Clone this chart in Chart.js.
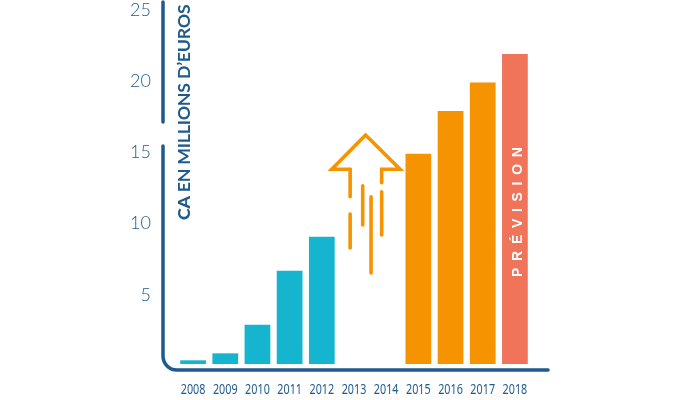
<!DOCTYPE html>
<html>
<head>
<meta charset="utf-8">
<style>
  html, body { margin: 0; padding: 0; background: #fff; }
  canvas { display: block; }
</style>
<script src="https://cdn.jsdelivr.net/npm/chart.js@4"></script>
</head>
<body>
<canvas id="myChart" width="680" height="400"></canvas>
<script>
// chiffre d'affaires
const years = [2008, 2009, 2010, 2011, 2012, 2013, 2014, 2015, 2016, 2017, 2018];
const revenue = [0.4, 0.89, 2.9, 6.69, 9.07, null, null, 14.9, 17.9, 19.9, 21.9];
const barColors = ['#15b5cf', '#15b5cf', '#15b5cf', '#15b5cf', '#15b5cf', null, null, '#f59300', '#f59300', '#f59300', '#f0745a'];
const yTicks = [5, 10, 15, 20, 25];

// the arrow between 2012 and 2015, in year / value units
const arrowHead = [[2012.88, 13.8], [2012.31, 13.8], [2013.36, 16.21], [2014.43, 13.8], [2013.86, 13.8], [2013.86, 12.86]];
const arrowLeftTop = [[2012.88, 13.8], [2012.88, 11.88]];
const arrowLeftLow = [[2012.88, 10.67], [2012.88, 8.28]];
const arrowRightLow = [[2013.86, 12.23], [2013.86, 9.19]];
const arrowMidLeft = [[2013.27, 12.65], [2013.27, 9.89]];
const arrowMidRight = [[2013.53, 11.88], [2013.53, 6.53]];
const arrowParts = [arrowHead, arrowLeftTop, arrowLeftLow, arrowRightLow, arrowMidLeft, arrowMidRight];

const navy = '#1f5a8c';
const orange = '#f59300';

function arrowDataset(part) {
    return {
        type: 'line',
        data: part.map(p => ({ x: p[0], y: p[1] })),
        borderColor: orange,
        borderWidth: 3.6,
        borderCapStyle: 'round',
        borderJoinStyle: 'miter',
        pointRadius: 0,
        tension: 0
    };
}

// rounded axis line with its gap, the year labels (condensed), the rotated axis title, the label in the 2018 bar
const decorations = {
    id: 'decorations',
    afterDatasetsDraw(chart) {
        const ctx = chart.ctx;
        const area = chart.chartArea;
        const xScale = chart.scales.x;
        const yScale = chart.scales.y;

        ctx.save();
        ctx.strokeStyle = navy;
        ctx.lineWidth = 3.5;
        ctx.lineCap = 'round';
        const axisX = area.left - 14;
        ctx.beginPath();
        ctx.moveTo(axisX, 2);
        ctx.lineTo(axisX, 122);
        ctx.moveTo(axisX, 146);
        ctx.arcTo(axisX, area.bottom, axisX + 14, area.bottom, 14);
        ctx.lineTo(area.right + 17, area.bottom);
        ctx.stroke();
        ctx.restore();

        ctx.save();
        ctx.fillStyle = navy;
        ctx.font = '15px "Noto Sans"';
        ctx.textAlign = 'center';
        ctx.textBaseline = 'middle';
        years.forEach(year => {
            ctx.save();
            ctx.translate(xScale.getPixelForValue(year), 390);
            ctx.scale(0.72, 1);
            ctx.fillText(String(year), 0, 0);
            ctx.restore();
        });
        ctx.restore();

        ctx.save();
        ctx.fillStyle = navy;
        ctx.translate(190, 220);
        ctx.rotate(-Math.PI / 2);
        ctx.textBaseline = 'alphabetic';
        ctx.textAlign = 'left';
        ctx.letterSpacing = '-0.25px';
        ctx.font = '900 17.8px Lato';
        ctx.fillText('CA', 0, 0);
        const caWidth = ctx.measureText('CA ').width;
        ctx.font = '700 17.8px Lato';
        ctx.fillText('EN MILLIONS D\u2019EUROS', caWidth, 0);
        ctx.restore();

        ctx.save();
        ctx.fillStyle = '#fff';
        ctx.translate(xScale.getPixelForValue(2018) + 7, yScale.getPixelForValue(6.25));
        ctx.rotate(-Math.PI / 2);
        ctx.font = '700 14px "Liberation Sans"';
        ctx.letterSpacing = '6.7px';
        ctx.textAlign = 'left';
        ctx.fillText('PR\u00c9VISION', 0, 0);
        ctx.restore();
    }
};

new Chart(document.getElementById('myChart'), {
    type: 'bar',
    data: {
        datasets: [
            {
                data: years.map((year, i) => ({ x: year, y: revenue[i] })),
                backgroundColor: barColors,
                base: 0.14,
                categoryPercentage: 0.8,
                barPercentage: 1
            },
            ...arrowParts.map(arrowDataset)
        ]
    },
    options: {
        responsive: false,
        animation: false,
        layout: { padding: { right: 149 } },
        plugins: { legend: { display: false }, tooltip: { enabled: false } },
        scales: {
            x: {
                type: 'linear',
                offset: false,
                min: 2007.5,
                max: 2018.5,
                grid: { display: false },
                border: { display: false },
                ticks: { display: false },
                afterFit(scale) {
                    scale.height = 30;
                    scale.paddingLeft = 0;
                    scale.paddingRight = 0;
                }
            },
            y: {
                min: -0.28,
                max: 25.68,
                grid: { display: false, drawTicks: false },
                border: { display: false },
                afterBuildTicks(scale) { scale.ticks = yTicks.map(v => ({ value: v })); },
                ticks: {
                    color: navy,
                    padding: 26,
                    font: { family: 'Lato', size: 18, weight: '300' }
                },
                afterFit(scale) {
                    scale.width = 177;
                    scale.paddingTop = 0;
                    scale.paddingBottom = 0;
                }
            }
        }
    },
    plugins: [decorations]
});
</script>
</body>
</html>
